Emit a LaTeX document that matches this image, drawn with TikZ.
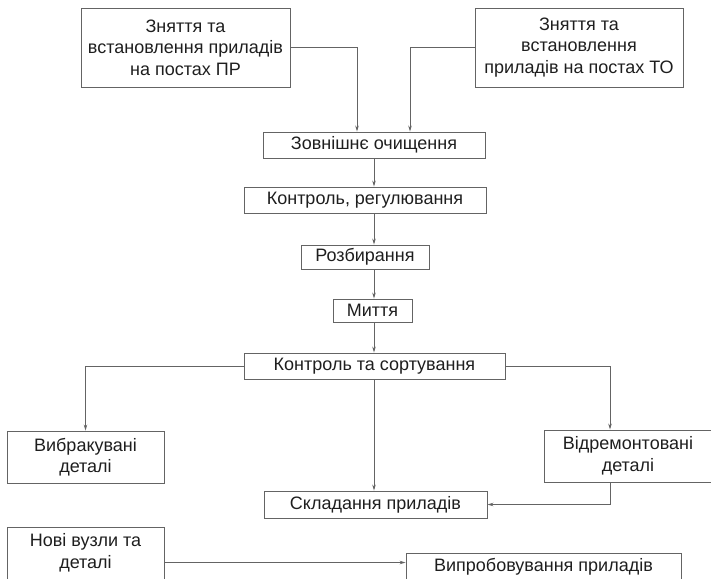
\documentclass[tikz,border=0pt]{standalone}
\usepackage{fontspec}
\setmainfont{Liberation Sans}
\usetikzlibrary{arrows.meta}
\definecolor{liniia}{RGB}{100,100,100}
\definecolor{tekst}{RGB}{30,30,30}
\tikzset{
	blok/.style={draw=liniia,line width=0.9pt,text=tekst,align=center,inner sep=0pt,font=\fontsize{18}{21.5}\selectfont},
	strilka/.style={draw=liniia,line width=0.9pt,-{Stealth[length=6pt,width=3.5pt]}}
}
\begin{document}
\begin{tikzpicture}[x=1pt,y=-1pt]
	\useasboundingbox(0,0) rectangle (711,578);
	\clip(0,0) rectangle (711,578);
	\node[blok,minimum width=209pt,minimum height=79pt](znPR)at(185.5,47.5){Зняття та\\встановлення приладів\\на постах ПР};
	\node[blok,minimum width=208pt,minimum height=79pt](znTO)at(579,47.5){Зняття та\\встановлення\\приладів на постах ТО};
	\node[blok,minimum width=222pt,minimum height=26pt](ochyst)at(374,145){Зовнішнє очищення};
	\node[blok,minimum width=242pt,minimum height=26pt](kontrol)at(365,200){Контроль, регулювання};
	\node[blok,minimum width=128pt,minimum height=24pt](rozbyr)at(365,257){Розбирання};
	\node[blok,minimum width=79pt,minimum height=23pt](myttia)at(372.5,310.5){Миття};
	\node[blok,minimum width=261pt,minimum height=26pt](sortuv)at(374.5,366){Контроль та сортування};
				\node[blok,minimum width=157pt,minimum height=52pt](vybrak)at(85.5,457){Вибракувані\\деталі};
				\node[blok,minimum width=168pt,minimum height=52pt](vidrem)at(628,456){Відремонтовані\\деталі};
				\node[blok,minimum width=223pt,minimum height=27pt](sklad)at(375.5,504.5){Складання приладів};
				\node[blok,minimum width=157pt,minimum height=52pt](novi)at(85.5,553){Нові вузли та\\деталі};
				\node[blok,minimum width=275pt,minimum height=27pt](vyprob)at(543.5,566.5){Випробовування приладів};
	\coordinate(vis)at(374,0);
	\draw[strilka](znPR.east)-|([xshift=-17pt]ochyst.north);
	\draw[strilka](znTO.west)-|([xshift=36pt]ochyst.north);
	\draw[strilka](ochyst.south)--(kontrol.north-|vis);
	\draw[strilka](kontrol.south-|vis)--(rozbyr.north-|vis);
	\draw[strilka](rozbyr.south-|vis)--(myttia.north-|vis);
	\draw[strilka](myttia.south-|vis)--(sortuv.north-|vis);
				\draw[strilka](sortuv.west)-|(vybrak.north);
				\draw[strilka](sortuv.east)-|([xshift=-18pt]vidrem.north);
				\draw[strilka](sortuv.south-|vis)--(sklad.north-|vis);
				\draw[strilka]([xshift=-18pt]vidrem.south)|-(sklad.east);
				\draw[strilka]([yshift=-9.5pt]novi.east)--([yshift=-9.5pt]novi.east-|vyprob.west);
\end{tikzpicture}
\end{document}
